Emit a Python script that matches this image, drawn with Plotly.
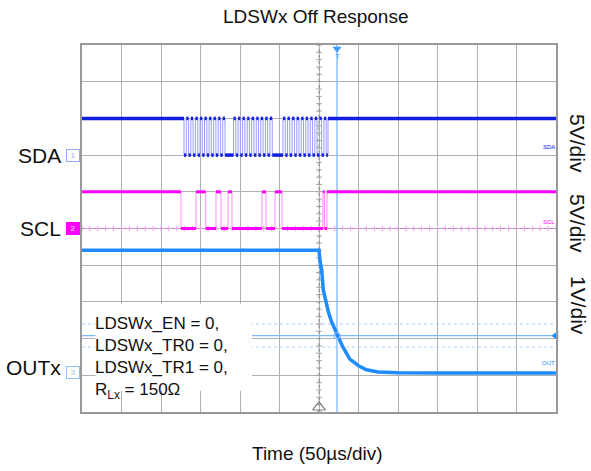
import plotly.graph_objects as go

# ---------------- data ----------------
title_text = "LDSWx Off Response"
x_label = "Time (50µs/div)"
channel_names = ["SDA", "SCL", "OUTx"]
scale_labels = ["5V/div", "5V/div", "1V/div"]
box_lines = ["LDSWx_EN = 0,", "LDSWx_TR0 = 0,", "LDSWx_TR1 = 0,", "R<sub>Lx</sub> = 150Ω"]

time_range_us = [-300, 300]
time_per_div_us = 50
n_vdiv = 10

# SDA (channel 1): 5 V/div, ground at division 7, alternating edges starting high
sda_vpd = 5
sda_offset_div = 7
sda_high_v = 5.0
sda_low_v = 0.0
sda_edges_us = [
    -170.9, -168.0, -165.1, -162.2, -159.4, -156.5, -153.5, -150.6, -147.8, -144.9,
    -142.0, -139.1, -136.3, -133.4, -130.5, -127.6, -124.8, -121.9, -119.0, -108.2,
    -105.3, -102.4, -99.6, -96.7, -93.8, -90.9, -88.1, -85.2, -82.3, -79.4,
    -76.6, -73.7, -70.8, -67.9, -65.1, -62.2, -59.2, -45.6,
    -42.7, -39.8, -37.0, -34.1, -31.1, -28.2, -25.4, -22.5, -19.6, -16.7,
    -13.9, -11.0, -8.1, -5.2, -2.4, 0.5, 3.4, 6.3, 9.1, 11.4,
]

# SCL (channel 2): 5 V/div, ground at division 5
scl_vpd = 5
scl_offset_div = 5
scl_high_v = 5.0
scl_low_v = 0.0
scl_edges_us = [-174.7, -155.7, -143.4, -130.4, -124.1, -115.2, -110.1,
                -72.2, -67.1, -55.7, -46.8, 5.1, 7.0, 10.1]

# OUTx (channel 3): 1 V/div, ground at division 1
out_vpd = 1
out_offset_div = 1
out_t_us = [-300, 0, 1, 3.4, 5.4, 8, 12, 16, 23, 30, 39, 50, 60, 75, 100, 150, 300]
out_v = [3.41, 3.41, 3.15, 2.87, 2.32, 2.05, 1.72, 1.45, 1.10, 0.78, 0.44,
         0.26, 0.15, 0.09, 0.07, 0.06, 0.06]

# cursors
cursor_t_us = 22.8
cursor_v = 1.08
cursor_band_v = [1.40, 0.77]

# ---------------- styles ----------------
FONT = "Liberation Sans, Arial, sans-serif"
SDA_DARK, SDA_LIGHT = "#1020e0", "#9a9cff"
SCL_DARK, SCL_LIGHT = "#ff00ff", "#ff8cff"
OUT_COL = "#1e8cff"
CUR_COL = "#7ab8ff"
GRID = "#b0b0b0"


def step_wave(edges, hi, lo, t0, t1):
    xs, ys = [t0], [hi]
    level = hi
    for e in edges:
        nxt = lo if level == hi else hi
        xs += [e, e]
        ys += [level, nxt]
        level = nxt
    xs.append(t1)
    ys.append(level)
    return xs, ys


def flats(edges, hi, lo, t0, t1):
    pts = [t0] + list(edges) + [t1]
    xs, ys = [], []
    level = hi
    for a, b in zip(pts[:-1], pts[1:]):
        xs += [a, b, None]
        ys += [level, level, None]
        level = lo if level == hi else hi
    return xs, ys


def to_div(vals, vpd, off):
    return [None if v is None else off + v / vpd for v in vals]


fig = go.Figure()
t0, t1 = time_range_us

# centre graticule ticks (drawn first, under the traces)
ticks_y = [i * 0.2 for i in range(0, n_vdiv * 5 + 1)]
fig.add_trace(go.Scatter(x=[0] * len(ticks_y), y=ticks_y, mode="markers",
                         marker=dict(symbol="line-ew", size=4, line=dict(color="#a0a0a0", width=1)),
                         hoverinfo="skip"))
ticks_x = list(range(t0, t1 + 1, 10))
fig.add_trace(go.Scatter(x=ticks_x, y=[scl_offset_div] * len(ticks_x), mode="markers",
                         marker=dict(symbol="line-ns", size=4, line=dict(color="#eaa0ea", width=1)),
                         hoverinfo="skip"))

# SDA
sx, sy = step_wave(sda_edges_us, sda_high_v, sda_low_v, t0, t1)
fig.add_trace(go.Scatter(x=sx, y=to_div(sy, sda_vpd, sda_offset_div), mode="lines",
                         line=dict(color=SDA_LIGHT, width=1), hoverinfo="skip"))
fx, fy = flats(sda_edges_us, sda_high_v, sda_low_v, t0, t1)
fig.add_trace(go.Scatter(x=fx, y=to_div(fy, sda_vpd, sda_offset_div), mode="lines",
                         line=dict(color=SDA_DARK, width=3.5), hoverinfo="skip"))

# SCL
sx, sy = step_wave(scl_edges_us, scl_high_v, scl_low_v, t0, t1)
fig.add_trace(go.Scatter(x=sx, y=to_div(sy, scl_vpd, scl_offset_div), mode="lines",
                         line=dict(color=SCL_LIGHT, width=1), hoverinfo="skip"))
fx, fy = flats(scl_edges_us, scl_high_v, scl_low_v, t0, t1)
fig.add_trace(go.Scatter(x=fx, y=to_div(fy, scl_vpd, scl_offset_div), mode="lines",
                         line=dict(color=SCL_DARK, width=3), hoverinfo="skip"))

# OUTx
fig.add_trace(go.Scatter(x=out_t_us, y=to_div(out_v, out_vpd, out_offset_div), mode="lines",
                         line=dict(color=OUT_COL, width=3.5), hoverinfo="skip"))

# cursor markers
cur_div = out_offset_div + cursor_v / out_vpd
fig.add_trace(go.Scatter(x=[cursor_t_us], y=[cur_div], mode="markers",
                         marker=dict(symbol="circle-open", size=6, color=CUR_COL, line=dict(width=1.2)),
                         hoverinfo="skip"))
fig.add_trace(go.Scatter(x=[t1], y=[cur_div], mode="markers", cliponaxis=False,
                         marker=dict(symbol="triangle-left", size=9, color=OUT_COL),
                         hoverinfo="skip"))
fig.add_trace(go.Scatter(x=[cursor_t_us], y=[9.9], mode="markers", cliponaxis=False,
                         marker=dict(symbol="triangle-down", size=8, color="#3a9cff"),
                         hoverinfo="skip"))
fig.add_trace(go.Scatter(x=[0], y=[0.13], mode="markers", cliponaxis=False,
                         marker=dict(symbol="triangle-up-open", size=11, color="#808080", line=dict(width=1.2)),
                         hoverinfo="skip"))

shapes = []
# centre dotted vertical line
shapes.append(dict(type="line", xref="x", yref="y", x0=0, x1=0, y0=0, y1=n_vdiv,
                   line=dict(color="#8a8a8a", width=1, dash="dot"), layer="between"))
# SCL reference dotted line
shapes.append(dict(type="line", xref="x", yref="y", x0=t0, x1=t1, y0=scl_offset_div, y1=scl_offset_div,
                   line=dict(color="#e070e0", width=1, dash="dot"), layer="between"))
# cursors
shapes.append(dict(type="line", xref="x", yref="y", x0=cursor_t_us, x1=cursor_t_us, y0=0, y1=n_vdiv,
                   line=dict(color=CUR_COL, width=1.3), layer="between"))
shapes.append(dict(type="line", xref="x", yref="y", x0=t0, x1=t1, y0=cur_div, y1=cur_div,
                   line=dict(color=CUR_COL, width=1.3), layer="between"))
for bv in cursor_band_v:
    yb = out_offset_div + bv / out_vpd
    shapes.append(dict(type="line", xref="x", yref="y", x0=t0, x1=t1, y0=yb, y1=yb,
                       line=dict(color="#a8d0ff", width=1, dash="dot"), layer="between"))
# white legend box
shapes.append(dict(type="rect", xref="x", yref="y", x0=-283, x1=-85, y0=0.58, y1=2.95,
                   fillcolor="white", line=dict(width=0), layer="between"))

annotations = []
annotations.append(dict(text=title_text, xref="paper", yref="paper", x=0.4937, y=1.0763,
                        xanchor="center", yanchor="middle", showarrow=False,
                        font=dict(family=FONT, size=19, color="#111")))
annotations.append(dict(text=x_label, xref="paper", yref="paper", x=0.497, y=-0.112,
                        xanchor="center", yanchor="middle", showarrow=False,
                        font=dict(family=FONT, size=19, color="#111")))
for name, yd in zip(channel_names, [7.0, 5.0, 1.22]):
    annotations.append(dict(text=name, xref="paper", yref="y", x=-0.040, y=yd,
                            xanchor="right", yanchor="middle", showarrow=False,
                            font=dict(family=FONT, size=21, color="#111")))
for lab, yd in zip(scale_labels, [7.30, 5.12, 2.89]):
    annotations.append(dict(text=lab, xref="paper", yref="y", x=1.0464, y=yd, textangle=90,
                            xanchor="center", yanchor="middle", showarrow=False,
                            font=dict(family=FONT, size=21, color="#111")))
# channel tags
tag_specs = [("1", 7.0, "white", "#9aa4ff", "#9aa4ff"),
             ("2", 5.0, "#ff00ff", "#ff00ff", "white"),
             ("3", 1.07, "white", "#8cc4ff", "#8cc4ff")]
for txt, yd, bg, bd, fc in tag_specs:
    annotations.append(dict(text=txt, xref="paper", yref="y", x=-0.018, y=yd,
                            xanchor="center", yanchor="middle", showarrow=False,
                            bgcolor=bg, bordercolor=bd, borderwidth=1, borderpad=1,
                            width=10, height=9,
                            font=dict(family=FONT, size=8, color=fc)))
# tiny trace labels at right
for txt, yd, col in [("SDA", 7.08, SDA_DARK), ("SCL", 5.05, SCL_DARK), ("OUT", 1.2, OUT_COL)]:
    annotations.append(dict(text=txt, xref="x", yref="y", x=291, y=yd, xanchor="center",
                            yanchor="bottom", showarrow=False,
                            font=dict(family=FONT, size=6, color=col)))
# trigger T
annotations.append(dict(text="T", xref="x", yref="y", x=cursor_t_us, y=9.70, xanchor="center",
                        yanchor="middle", showarrow=False,
                        font=dict(family=FONT, size=8, color="#3a9cff")))
# settings text box
annotations.append(dict(text="<br>".join(box_lines), xref="x", yref="y", x=-285.5, y=1.485,
                        xanchor="left", yanchor="middle", align="left", showarrow=False,
                        font=dict(family=FONT, size=17, color="#111")))

fig.update_layout(
    width=591, height=471,
    margin=dict(l=82, r=35, t=45, b=59, autoexpand=False),
    paper_bgcolor="white", plot_bgcolor="white",
    showlegend=False,
    shapes=shapes, annotations=annotations,
    xaxis=dict(range=time_range_us, dtick=time_per_div_us, tick0=0, showgrid=True,
               gridcolor=GRID, gridwidth=1, showticklabels=False, ticks="",
               zeroline=False, showline=True, linecolor="#999999", linewidth=1.5, mirror=True,
               fixedrange=True),
    yaxis=dict(range=[0, n_vdiv], dtick=1, tick0=0, showgrid=True,
               gridcolor=GRID, gridwidth=1, showticklabels=False, ticks="",
               zeroline=False, showline=True, linecolor="#999999", linewidth=1.5, mirror=True,
               fixedrange=True),
)

fig.write_html("out.html")
